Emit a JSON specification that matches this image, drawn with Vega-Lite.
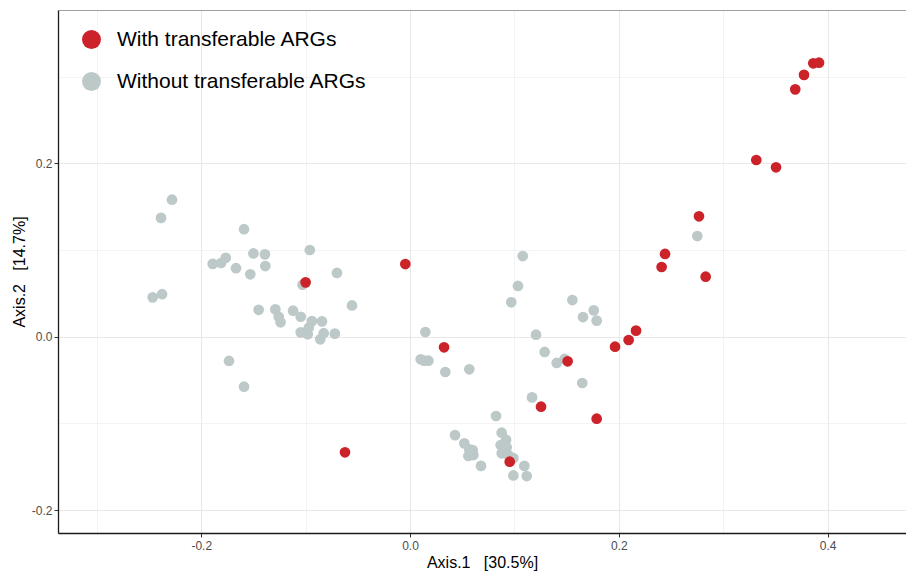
{
  "$schema": "https://vega.github.io/schema/vega-lite/v6.json",
  "width": 848,
  "height": 523,
  "autosize": {"type": "none"},
  "padding": {"left": 58, "top": 10, "right": 0, "bottom": 40},
  "background": "white",
  "config": {"font": "Liberation Sans", "view": {"stroke": null}},
  "data": {
    "values": [
      {"x": -0.228, "y": 0.158, "group": "Without transferable ARGs"},
      {"x": -0.2385, "y": 0.137, "group": "Without transferable ARGs"},
      {"x": -0.159, "y": 0.124, "group": "Without transferable ARGs"},
      {"x": -0.150, "y": 0.096, "group": "Without transferable ARGs"},
      {"x": -0.139, "y": 0.095, "group": "Without transferable ARGs"},
      {"x": -0.096, "y": 0.100, "group": "Without transferable ARGs"},
      {"x": -0.189, "y": 0.084, "group": "Without transferable ARGs"},
      {"x": -0.181, "y": 0.085, "group": "Without transferable ARGs"},
      {"x": -0.1765, "y": 0.091, "group": "Without transferable ARGs"},
      {"x": -0.1667, "y": 0.079, "group": "Without transferable ARGs"},
      {"x": -0.153, "y": 0.072, "group": "Without transferable ARGs"},
      {"x": -0.1386, "y": 0.0815, "group": "Without transferable ARGs"},
      {"x": -0.070, "y": 0.0735, "group": "Without transferable ARGs"},
      {"x": -0.103, "y": 0.060, "group": "Without transferable ARGs"},
      {"x": -0.2465, "y": 0.0454, "group": "Without transferable ARGs"},
      {"x": -0.2375, "y": 0.049, "group": "Without transferable ARGs"},
      {"x": -0.0556, "y": 0.036, "group": "Without transferable ARGs"},
      {"x": -0.145, "y": 0.031, "group": "Without transferable ARGs"},
      {"x": -0.129, "y": 0.0315, "group": "Without transferable ARGs"},
      {"x": -0.1258, "y": 0.023, "group": "Without transferable ARGs"},
      {"x": -0.124, "y": 0.0166, "group": "Without transferable ARGs"},
      {"x": -0.112, "y": 0.030, "group": "Without transferable ARGs"},
      {"x": -0.1047, "y": 0.023, "group": "Without transferable ARGs"},
      {"x": -0.094, "y": 0.018, "group": "Without transferable ARGs"},
      {"x": -0.0843, "y": 0.0177, "group": "Without transferable ARGs"},
      {"x": -0.1047, "y": 0.005, "group": "Without transferable ARGs"},
      {"x": -0.098, "y": 0.003, "group": "Without transferable ARGs"},
      {"x": -0.097, "y": 0.0104, "group": "Without transferable ARGs"},
      {"x": -0.0827, "y": 0.004, "group": "Without transferable ARGs"},
      {"x": -0.086, "y": -0.003, "group": "Without transferable ARGs"},
      {"x": -0.072, "y": 0.0035, "group": "Without transferable ARGs"},
      {"x": -0.1734, "y": -0.028, "group": "Without transferable ARGs"},
      {"x": -0.159, "y": -0.0577, "group": "Without transferable ARGs"},
      {"x": 0.108, "y": 0.093, "group": "Without transferable ARGs"},
      {"x": 0.1034, "y": 0.0585, "group": "Without transferable ARGs"},
      {"x": 0.097, "y": 0.0397, "group": "Without transferable ARGs"},
      {"x": 0.1555, "y": 0.0423, "group": "Without transferable ARGs"},
      {"x": 0.176, "y": 0.0304, "group": "Without transferable ARGs"},
      {"x": 0.1657, "y": 0.0227, "group": "Without transferable ARGs"},
      {"x": 0.1788, "y": 0.0185, "group": "Without transferable ARGs"},
      {"x": 0.0147, "y": 0.0054, "group": "Without transferable ARGs"},
      {"x": 0.1207, "y": 0.0023, "group": "Without transferable ARGs"},
      {"x": 0.0102, "y": -0.026, "group": "Without transferable ARGs"},
      {"x": 0.0134, "y": -0.0277, "group": "Without transferable ARGs"},
      {"x": 0.0176, "y": -0.0277, "group": "Without transferable ARGs"},
      {"x": 0.0338, "y": -0.0407, "group": "Without transferable ARGs"},
      {"x": 0.0568, "y": -0.0376, "group": "Without transferable ARGs"},
      {"x": 0.129, "y": -0.0176, "group": "Without transferable ARGs"},
      {"x": 0.1405, "y": -0.0303, "group": "Without transferable ARGs"},
      {"x": 0.148, "y": -0.0257, "group": "Without transferable ARGs"},
      {"x": 0.165, "y": -0.0534, "group": "Without transferable ARGs"},
      {"x": 0.1169, "y": -0.070, "group": "Without transferable ARGs"},
      {"x": 0.0824, "y": -0.0915, "group": "Without transferable ARGs"},
      {"x": 0.0431, "y": -0.1135, "group": "Without transferable ARGs"},
      {"x": 0.052, "y": -0.123, "group": "Without transferable ARGs"},
      {"x": 0.0568, "y": -0.130, "group": "Without transferable ARGs"},
      {"x": 0.060, "y": -0.1307, "group": "Without transferable ARGs"},
      {"x": 0.0559, "y": -0.1376, "group": "Without transferable ARGs"},
      {"x": 0.0607, "y": -0.1365, "group": "Without transferable ARGs"},
      {"x": 0.068, "y": -0.149, "group": "Without transferable ARGs"},
      {"x": 0.0878, "y": -0.1107, "group": "Without transferable ARGs"},
      {"x": 0.092, "y": -0.119, "group": "Without transferable ARGs"},
      {"x": 0.0868, "y": -0.125, "group": "Without transferable ARGs"},
      {"x": 0.0926, "y": -0.1276, "group": "Without transferable ARGs"},
      {"x": 0.0878, "y": -0.1345, "group": "Without transferable ARGs"},
      {"x": 0.0942, "y": -0.1365, "group": "Without transferable ARGs"},
      {"x": 0.099, "y": -0.140, "group": "Without transferable ARGs"},
      {"x": 0.1095, "y": -0.149, "group": "Without transferable ARGs"},
      {"x": 0.099, "y": -0.160, "group": "Without transferable ARGs"},
      {"x": 0.1118, "y": -0.1607, "group": "Without transferable ARGs"},
      {"x": 0.2752, "y": 0.1161, "group": "Without transferable ARGs"},
      {"x": -0.100, "y": 0.0627, "group": "With transferable ARGs"},
      {"x": -0.0623, "y": -0.1333, "group": "With transferable ARGs"},
      {"x": -0.0045, "y": 0.0838, "group": "With transferable ARGs"},
      {"x": 0.0326, "y": -0.0122, "group": "With transferable ARGs"},
      {"x": 0.0955, "y": -0.1442, "group": "With transferable ARGs"},
      {"x": 0.1255, "y": -0.0807, "group": "With transferable ARGs"},
      {"x": 0.151, "y": -0.0284, "group": "With transferable ARGs"},
      {"x": 0.1788, "y": -0.0946, "group": "With transferable ARGs"},
      {"x": 0.1964, "y": -0.0115, "group": "With transferable ARGs"},
      {"x": 0.2094, "y": -0.0038, "group": "With transferable ARGs"},
      {"x": 0.2165, "y": 0.007, "group": "With transferable ARGs"},
      {"x": 0.241, "y": 0.0804, "group": "With transferable ARGs"},
      {"x": 0.2443, "y": 0.0954, "group": "With transferable ARGs"},
      {"x": 0.2768, "y": 0.1389, "group": "With transferable ARGs"},
      {"x": 0.2832, "y": 0.0692, "group": "With transferable ARGs"},
      {"x": 0.3317, "y": 0.2038, "group": "With transferable ARGs"},
      {"x": 0.3506, "y": 0.1954, "group": "With transferable ARGs"},
      {"x": 0.369, "y": 0.2853, "group": "With transferable ARGs"},
      {"x": 0.3774, "y": 0.302, "group": "With transferable ARGs"},
      {"x": 0.3863, "y": 0.3153, "group": "With transferable ARGs"},
      {"x": 0.3918, "y": 0.316, "group": "With transferable ARGs"}
    ]
  },
  "layer": [
    {
      "mark": {"type": "point", "opacity": 0},
      "encoding": {
        "x": {
          "field": "x", "type": "quantitative",
          "scale": {"domain": [-0.3372, 0.4751], "nice": false, "zero": false},
          "axis": {"orient": "top", "values": [-0.3, -0.1, 0.1, 0.3], "grid": true, "gridColor": "#EBEBEB", "gridWidth": 0.6, "labels": false, "ticks": false, "domain": true, "domainColor": "#A0A0A0", "domainWidth": 1, "title": null}
        },
        "y": {
          "field": "y", "type": "quantitative",
          "scale": {"domain": [-0.2264, 0.3768], "nice": false, "zero": false},
          "axis": {"orient": "right", "values": [-0.1, 0.1, 0.3], "grid": true, "gridColor": "#EBEBEB", "gridWidth": 0.6, "labels": false, "ticks": false, "domain": false, "title": null}
        }
      }
    },
    {
      "mark": {"type": "circle", "size": 115, "opacity": 1},
      "encoding": {
        "x": {
          "field": "x", "type": "quantitative",
          "axis": {
            "orient": "bottom", "values": [-0.2, 0, 0.2, 0.4],
            "labelExpr": "datum.value < 0 ? '-' + format(-datum.value, '.1f') : format(datum.value, '.1f')",
            "grid": true, "gridColor": "#E8E8E8", "gridWidth": 1.1,
            "domainColor": "#1A1A1A", "domainWidth": 1.3,
            "tickColor": "#333333", "tickSize": 4, "tickWidth": 1,
            "labelFontSize": 12, "labelColor": "#4D4D4D", "labelPadding": 3,
            "title": "Axis.1\u00a0\u00a0 [30.5%]", "titleFontSize": 16, "titleFontWeight": "normal", "titleColor": "#000000", "titlePadding": 3
          }
        },
        "y": {
          "field": "y", "type": "quantitative",
          "axis": {
            "orient": "left", "values": [-0.2, 0, 0.2],
            "labelExpr": "datum.value < 0 ? '-' + format(-datum.value, '.1f') : format(datum.value, '.1f')",
            "grid": true, "gridColor": "#E8E8E8", "gridWidth": 1.1,
            "domainColor": "#1A1A1A", "domainWidth": 1.3,
            "tickColor": "#333333", "tickSize": 4, "tickWidth": 1,
            "labelFontSize": 12, "labelColor": "#4D4D4D", "labelPadding": 2,
            "title": "Axis.2\u00a0\u00a0 [14.7%]", "titleFontSize": 16, "titleFontWeight": "normal", "titleColor": "#000000", "titlePadding": 4
          }
        },
        "color": {
          "field": "group", "type": "nominal",
          "scale": {"domain": ["With transferable ARGs", "Without transferable ARGs"], "range": ["#CC2229", "#BDC8C8"]},
          "legend": {
            "orient": "none", "legendX": 23, "legendY": 19, "title": null,
            "symbolType": "circle", "symbolSize": 360, "symbolOpacity": 1, "symbolStrokeWidth": 0,
            "labelFontSize": 21, "labelColor": "#000000", "labelOffset": 15, "labelLimit": 0,
            "rowPadding": 20, "padding": 0
          }
        }
      }
    }
  ],
  "resolve": {"axis": {"x": "independent", "y": "independent"}}
}
